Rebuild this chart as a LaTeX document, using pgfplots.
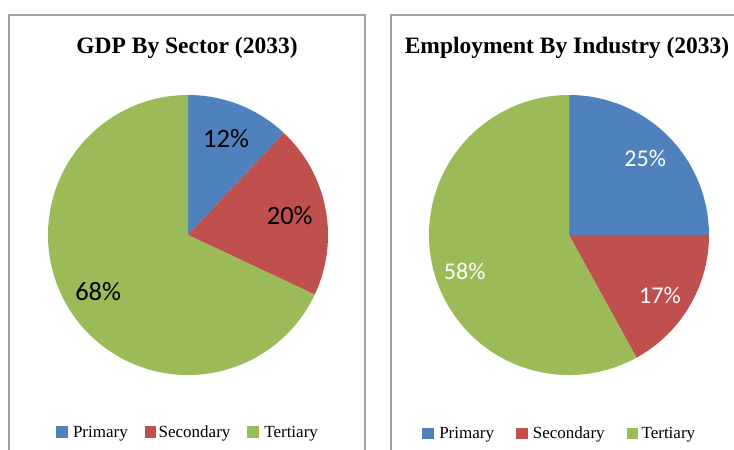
\documentclass[border=0pt]{standalone}
\usepackage{pgfplots}
\usepackage{pgfplotstable}
\pgfplotsset{compat=1.18}
\usepackage{fontspec}
\setmainfont{Liberation Serif}
\newfontfamily\carlito{Carlito}

\definecolor{pblue}{HTML}{4F81BD}
\definecolor{pred}{HTML}{C0504D}
\definecolor{pgreen}{HTML}{9BBB59}
\definecolor{frame}{HTML}{A0A0A0}

% shares in percent
\pgfplotstableread{
sector value
Primary 12
Secondary 20
Tertiary 68
}\gdp
\pgfplotstableread{
sector value
Primary 25
Secondary 17
Tertiary 58
}\emp

% start/end angles, clockwise from 12 o'clock
\pgfplotstablegetelem{0}{value}\of\gdp \let\gVa\pgfplotsretval
\pgfplotstablegetelem{1}{value}\of\gdp \let\gVb\pgfplotsretval
\pgfplotstablegetelem{2}{value}\of\gdp \let\gVc\pgfplotsretval
\pgfmathsetmacro\gAa{90-3.6*\gVa}
\pgfmathsetmacro\gAb{\gAa-3.6*\gVb}
\pgfmathsetmacro\gMa{(90+\gAa)/2}
\pgfmathsetmacro\gMb{(\gAa+\gAb)/2}
\pgfmathsetmacro\gMc{(\gAb-270)/2}

\pgfplotstablegetelem{0}{value}\of\emp \let\eVa\pgfplotsretval
\pgfplotstablegetelem{1}{value}\of\emp \let\eVb\pgfplotsretval
\pgfplotstablegetelem{2}{value}\of\emp \let\eVc\pgfplotsretval
\pgfmathsetmacro\eAa{90-3.6*\eVa}
\pgfmathsetmacro\eAb{\eAa-3.6*\eVb}
\pgfmathsetmacro\eMa{(90+\eAa)/2}
\pgfmathsetmacro\eMb{(\eAa+\eAb)/2}
\pgfmathsetmacro\eMc{(\eAb-270)/2}

\pgfplotsset{
  pie/.style={
    hide axis, scale only axis,
    width=280pt, height=280pt,
    xmin=-1, xmax=1, ymin=-1, ymax=1,
    clip=false, anchor=center,
    legend columns=3,
    legend style={draw=none, fill=none, font=\fontsize{17}{19}\selectfont,
      anchor=center},
    legend cell align=left,
  },
  sq/.style={legend image code/.code={\fill[##1] (0pt,-4.5pt) rectangle (10.5pt,6pt);}},
}

\begin{document}
\begin{tikzpicture}
\path[use as bounding box] (0pt,0pt) rectangle (734pt,450pt);
\clip (0pt,0pt) rectangle (734pt,450pt);

\draw[frame, line width=1.1pt] (9pt,-5pt) -- (9pt,435pt) -- (365pt,435pt) -- (365pt,-5pt);
\draw[frame, line width=1.1pt] (391pt,-5pt) -- (391pt,435pt) -- (745pt,435pt);

\node[font=\fontsize{23.5}{26}\selectfont\bfseries] at (187pt,402pt) {GDP By Sector (2033)};
\node[font=\fontsize{23.5}{26}\selectfont\bfseries] at (567pt,402pt) {Employment By Industry (2033)};

\begin{axis}[pie, at={(188pt,215pt)},
  legend style={at={(0.5,-0.205)},
    /tikz/every even column/.append style={column sep=15pt}}]
  \fill[pblue] (axis cs:0,0) -- (axis cs:0,1) arc[start angle=90, end angle=\gAa, radius=140pt] -- cycle;
  \fill[pred] (axis cs:0,0) -- (axis cs:{cos(\gAa)},{sin(\gAa)}) arc[start angle=\gAa, end angle=\gAb, radius=140pt] -- cycle;
  \fill[pgreen] (axis cs:0,0) -- (axis cs:{cos(\gAb)},{sin(\gAb)}) arc[start angle=\gAb, end angle=-270, radius=140pt] -- cycle;
  \node[font=\carlito\fontsize{26.5}{28}\selectfont] at (axis cs:{0.74*cos(\gMa)},{0.74*sin(\gMa)}) {\gVa\%};
  \node[font=\carlito\fontsize{26.5}{28}\selectfont] at (axis cs:{0.74*cos(\gMb)},{0.74*sin(\gMb)}) {\gVb\%};
  \node[font=\carlito\fontsize{26.5}{28}\selectfont] at (axis cs:{0.76*cos(\gMc)},{0.76*sin(\gMc)}) {\gVc\%};
  \addlegendimage{sq, pblue}
  \addlegendimage{sq, pred}
  \addlegendimage{sq, pgreen}
  \legend{\hspace{4pt}Primary, \hspace{1pt}Secondary, \hspace{4pt}Tertiary}
\end{axis}

\begin{axis}[pie, at={(569pt,215pt)},
  legend style={at={(0.467,-0.21)},
    /tikz/every even column/.append style={column sep=20pt}}]
  \fill[pblue] (axis cs:0,0) -- (axis cs:0,1) arc[start angle=90, end angle=\eAa, radius=140pt] -- cycle;
  \fill[pred] (axis cs:0,0) -- (axis cs:{cos(\eAa)},{sin(\eAa)}) arc[start angle=\eAa, end angle=\eAb, radius=140pt] -- cycle;
  \fill[pgreen] (axis cs:0,0) -- (axis cs:{cos(\eAb)},{sin(\eAb)}) arc[start angle=\eAb, end angle=-270, radius=140pt] -- cycle;
  \node[white, font=\carlito\fontsize{24}{26}\selectfont] at (axis cs:{0.77*cos(\eMa)},{0.77*sin(\eMa)}) {\eVa\%};
  \node[white, font=\carlito\fontsize{24}{26}\selectfont] at (axis cs:{0.78*cos(\eMb-3)},{0.78*sin(\eMb-3)}) {\eVb\%};
  \node[white, font=\carlito\fontsize{24}{26}\selectfont] at (axis cs:{0.79*cos(\eMc+5)},{0.79*sin(\eMc+5)}) {\eVc\%};
  \addlegendimage{sq, pblue}
  \addlegendimage{sq, pred}
  \addlegendimage{sq, pgreen}
  \legend{\hspace{4pt}Primary, \hspace{4pt}Secondary, \hspace{2pt}Tertiary}
\end{axis}
\end{tikzpicture}
\end{document}
